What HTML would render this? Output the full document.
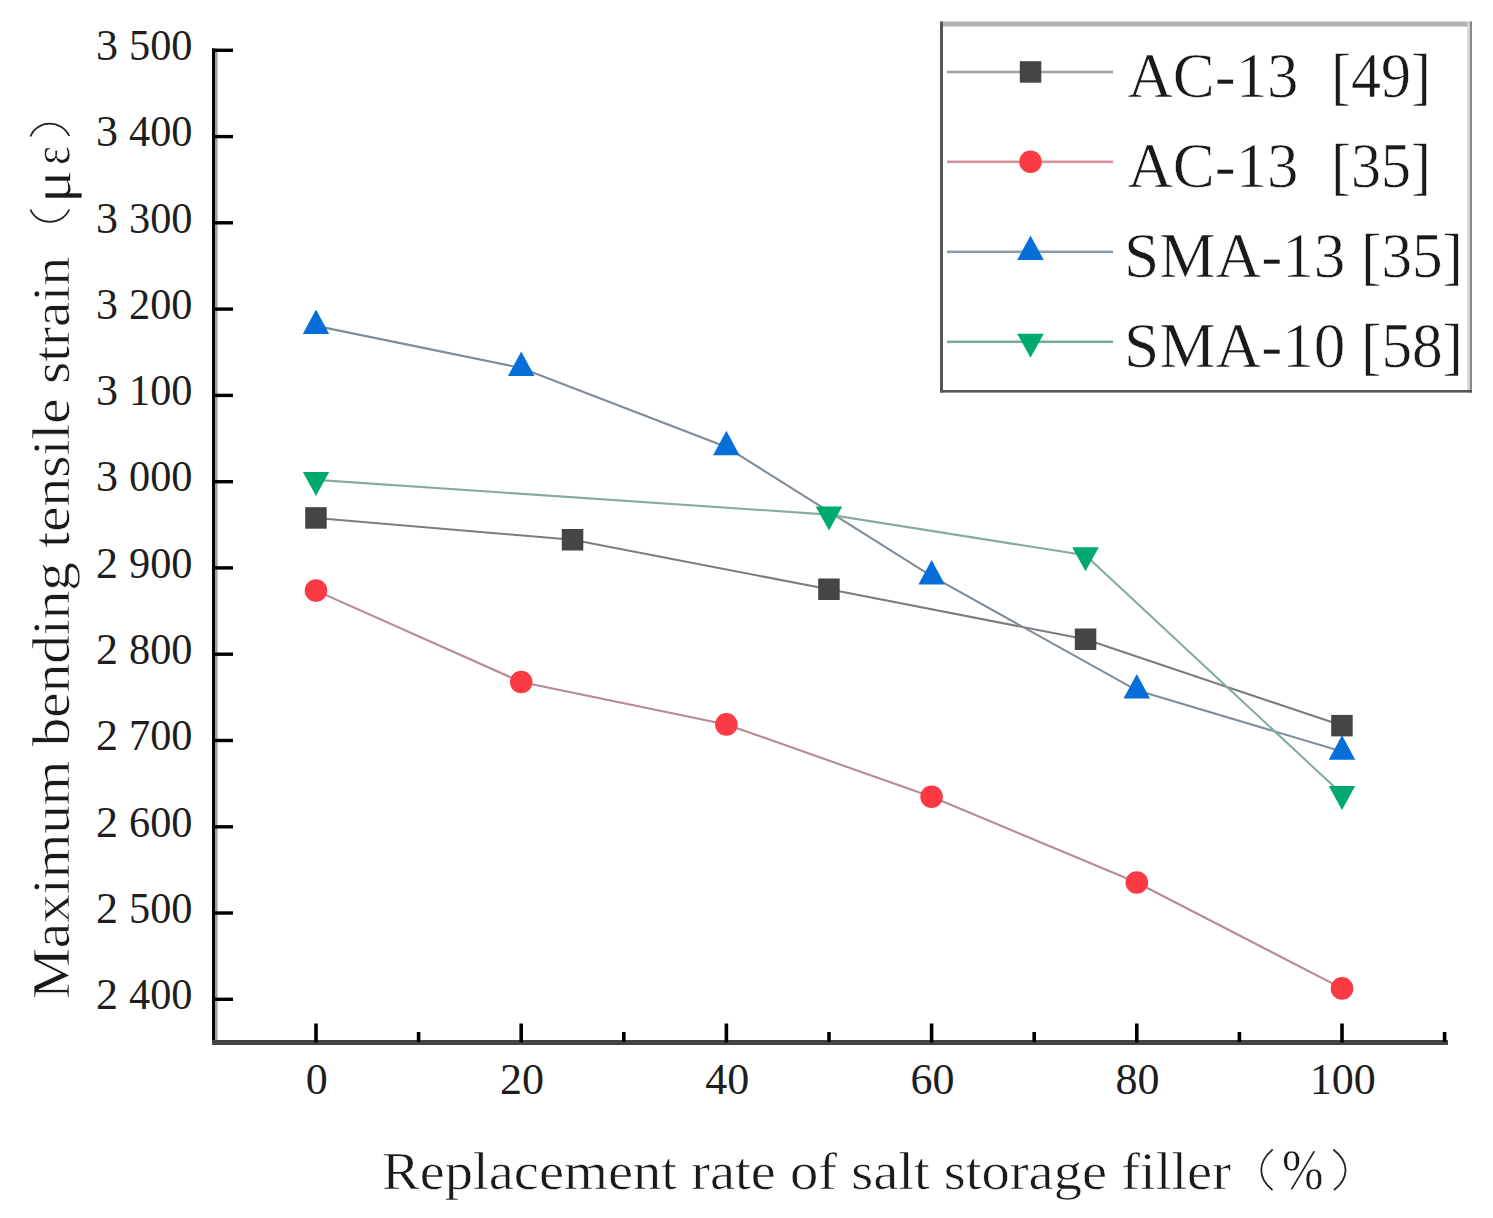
<!DOCTYPE html>
<html><head><meta charset="utf-8"><style>
html,body{margin:0;padding:0;background:#fff;overflow:hidden;}
svg{display:block;}
text{font-family:"Liberation Serif",serif;fill:#1a1a1a;stroke:#fff;stroke-width:0.6px;}
.tk text{stroke:none;fill:#1e1e1e;}
</style></head><body>
<svg width="1493" height="1218" viewBox="0 0 1493 1218">
<rect x="212" y="48.5" width="3" height="995" fill="#000"/>
<rect x="215" y="48.5" width="2.6" height="992" fill="#a0a0a0"/>
<rect x="212" y="1040" width="1236" height="5" fill="#444"/>
<rect x="212" y="997.6" width="21" height="3.4" fill="#000"/>
<g class="tk"><text x="96" y="1009.0" font-size="44" xml:space="preserve">2</text>
<text x="129" y="1009.0" font-size="44" textLength="63.5" lengthAdjust="spacingAndGlyphs" xml:space="preserve">400</text></g>
<rect x="212" y="911.3" width="21" height="3.4" fill="#000"/>
<g class="tk"><text x="96" y="922.7" font-size="44" xml:space="preserve">2</text>
<text x="129" y="922.7" font-size="44" textLength="63.5" lengthAdjust="spacingAndGlyphs" xml:space="preserve">500</text></g>
<rect x="212" y="825.1" width="21" height="3.4" fill="#000"/>
<g class="tk"><text x="96" y="836.5" font-size="44" xml:space="preserve">2</text>
<text x="129" y="836.5" font-size="44" textLength="63.5" lengthAdjust="spacingAndGlyphs" xml:space="preserve">600</text></g>
<rect x="212" y="738.8" width="21" height="3.4" fill="#000"/>
<g class="tk"><text x="96" y="750.2" font-size="44" xml:space="preserve">2</text>
<text x="129" y="750.2" font-size="44" textLength="63.5" lengthAdjust="spacingAndGlyphs" xml:space="preserve">700</text></g>
<rect x="212" y="652.5" width="21" height="3.4" fill="#000"/>
<g class="tk"><text x="96" y="663.9" font-size="44" xml:space="preserve">2</text>
<text x="129" y="663.9" font-size="44" textLength="63.5" lengthAdjust="spacingAndGlyphs" xml:space="preserve">800</text></g>
<rect x="212" y="566.2" width="21" height="3.4" fill="#000"/>
<g class="tk"><text x="96" y="577.6" font-size="44" xml:space="preserve">2</text>
<text x="129" y="577.6" font-size="44" textLength="63.5" lengthAdjust="spacingAndGlyphs" xml:space="preserve">900</text></g>
<rect x="212" y="480.0" width="21" height="3.4" fill="#000"/>
<g class="tk"><text x="96" y="491.4" font-size="44" xml:space="preserve">3</text>
<text x="129" y="491.4" font-size="44" textLength="63.5" lengthAdjust="spacingAndGlyphs" xml:space="preserve">000</text></g>
<rect x="212" y="393.7" width="21" height="3.4" fill="#000"/>
<g class="tk"><text x="96" y="405.1" font-size="44" xml:space="preserve">3</text>
<text x="129" y="405.1" font-size="44" textLength="63.5" lengthAdjust="spacingAndGlyphs" xml:space="preserve">100</text></g>
<rect x="212" y="307.4" width="21" height="3.4" fill="#000"/>
<g class="tk"><text x="96" y="318.8" font-size="44" xml:space="preserve">3</text>
<text x="129" y="318.8" font-size="44" textLength="63.5" lengthAdjust="spacingAndGlyphs" xml:space="preserve">200</text></g>
<rect x="212" y="221.1" width="21" height="3.4" fill="#000"/>
<g class="tk"><text x="96" y="232.5" font-size="44" xml:space="preserve">3</text>
<text x="129" y="232.5" font-size="44" textLength="63.5" lengthAdjust="spacingAndGlyphs" xml:space="preserve">300</text></g>
<rect x="212" y="134.9" width="21" height="3.4" fill="#000"/>
<g class="tk"><text x="96" y="146.3" font-size="44" xml:space="preserve">3</text>
<text x="129" y="146.3" font-size="44" textLength="63.5" lengthAdjust="spacingAndGlyphs" xml:space="preserve">400</text></g>
<rect x="212" y="48.6" width="21" height="3.4" fill="#000"/>
<g class="tk"><text x="96" y="60.0" font-size="44" xml:space="preserve">3</text>
<text x="129" y="60.0" font-size="44" textLength="63.5" lengthAdjust="spacingAndGlyphs" xml:space="preserve">500</text></g>
<rect x="314.2" y="1023.5" width="3.6" height="19" fill="#000"/>
<g class="tk"><text x="316.8" y="1094" font-size="44" text-anchor="middle" xml:space="preserve">0</text></g>
<rect x="416.8" y="1032" width="3.6" height="10" fill="#000"/>
<rect x="519.4" y="1023.5" width="3.6" height="19" fill="#000"/>
<g class="tk"><text x="522.0" y="1094" font-size="44" text-anchor="middle" xml:space="preserve">20</text></g>
<rect x="622.0" y="1032" width="3.6" height="10" fill="#000"/>
<rect x="724.6" y="1023.5" width="3.6" height="19" fill="#000"/>
<g class="tk"><text x="727.2" y="1094" font-size="44" text-anchor="middle" xml:space="preserve">40</text></g>
<rect x="827.2" y="1032" width="3.6" height="10" fill="#000"/>
<rect x="929.8" y="1023.5" width="3.6" height="19" fill="#000"/>
<g class="tk"><text x="932.4" y="1094" font-size="44" text-anchor="middle" xml:space="preserve">60</text></g>
<rect x="1032.4" y="1032" width="3.6" height="10" fill="#000"/>
<rect x="1135.0" y="1023.5" width="3.6" height="19" fill="#000"/>
<g class="tk"><text x="1137.6" y="1094" font-size="44" text-anchor="middle" xml:space="preserve">80</text></g>
<rect x="1237.6" y="1032" width="3.6" height="10" fill="#000"/>
<rect x="1340.2" y="1023.5" width="3.6" height="19" fill="#000"/>
<g class="tk"><text x="1342.8" y="1094" font-size="44" text-anchor="middle" xml:space="preserve">100</text></g>
<rect x="1442.8" y="1032" width="3.6" height="10" fill="#000"/>
<polyline points="316.0,518.0 572.5,539.8 829.0,589.3 1085.5,639.3 1342.0,725.6" fill="none" stroke="#7c7c7c" stroke-width="2.1"/>
<polyline points="316.0,590.6 521.2,682.0 726.4,724.4 931.6,796.8 1136.8,882.5 1342.0,988.4" fill="none" stroke="#b88a93" stroke-width="2.1"/>
<polyline points="316.0,325.9 521.2,367.9 726.4,447.0 931.6,576.2 1136.8,690.3 1342.0,751.5" fill="none" stroke="#7f8c9a" stroke-width="2.1"/>
<polyline points="316.0,479.9 829.0,514.6 1085.5,555.3 1342.0,794.0" fill="none" stroke="#86aaa2" stroke-width="2.1"/>
<rect x="305.2" y="507.2" width="21.5" height="21.5" fill="#454545"/>
<rect x="561.8" y="529.0" width="21.5" height="21.5" fill="#454545"/>
<rect x="818.2" y="578.5" width="21.5" height="21.5" fill="#454545"/>
<rect x="1074.8" y="628.5" width="21.5" height="21.5" fill="#454545"/>
<rect x="1331.2" y="714.9" width="21.5" height="21.5" fill="#454545"/>
<circle cx="316.0" cy="590.6" r="11.3" fill="#fc3a44"/>
<circle cx="521.2" cy="682.0" r="11.3" fill="#fc3a44"/>
<circle cx="726.4" cy="724.4" r="11.3" fill="#fc3a44"/>
<circle cx="931.6" cy="796.8" r="11.3" fill="#fc3a44"/>
<circle cx="1136.8" cy="882.5" r="11.3" fill="#fc3a44"/>
<circle cx="1342.0" cy="988.4" r="11.3" fill="#fc3a44"/>
<path d="M316.0 309.6L329.2 334.1L302.8 334.1Z" fill="#066ed8"/>
<path d="M521.2 351.6L534.5 376.1L508.0 376.1Z" fill="#066ed8"/>
<path d="M726.4 430.7L739.6 455.2L713.1 455.2Z" fill="#066ed8"/>
<path d="M931.6 559.9L944.9 584.4L918.4 584.4Z" fill="#066ed8"/>
<path d="M1136.8 674.0L1150.0 698.5L1123.5 698.5Z" fill="#066ed8"/>
<path d="M1342.0 735.2L1355.2 759.7L1328.8 759.7Z" fill="#066ed8"/>
<path d="M302.8 471.9L329.2 471.9L316.0 495.9Z" fill="#00aa6c"/>
<path d="M815.8 506.6L842.2 506.6L829.0 530.6Z" fill="#00aa6c"/>
<path d="M1072.2 547.3L1098.8 547.3L1085.5 571.3Z" fill="#00aa6c"/>
<path d="M1328.8 786.0L1355.2 786.0L1342.0 810.0Z" fill="#00aa6c"/>
<text x="382" y="1188.5" font-size="53" textLength="849" lengthAdjust="spacingAndGlyphs" xml:space="preserve">Replacement rate of salt storage filler</text>
<path d="M1272.7 1149.5C1257.5 1162 1257.5 1178 1272.5 1190M1333.3 1149.5C1349.5 1162 1349.5 1178 1334 1190" fill="none" stroke="#222" stroke-width="1.8"/>
<text x="1282" y="1189" font-size="57" textLength="41.5" lengthAdjust="spacingAndGlyphs" xml:space="preserve">%</text>
<g transform="translate(68.6,999) rotate(-90)"><text x="0" y="0" font-size="53" textLength="742" lengthAdjust="spacingAndGlyphs" xml:space="preserve">Maximum bending tensile strain</text></g>
<g transform="translate(69.8,203) rotate(-90)"><text x="0" y="0" font-size="54" textLength="33" lengthAdjust="spacingAndGlyphs" xml:space="preserve">μ</text></g>
<g transform="translate(68.6,165) rotate(-90)"><text x="0" y="0" font-size="53" textLength="19" lengthAdjust="spacingAndGlyphs" xml:space="preserve">ε</text></g>
<path d="M30.5 209.5C37 226 62 226 69.2 209.5M30.5 136.5C37 119.5 62 119.5 69.2 136" fill="none" stroke="#222" stroke-width="1.8"/>
<rect x="940" y="21.5" width="532" height="371" fill="#fff"/>
<rect x="940" y="21.5" width="532" height="5" fill="#b2b2b2"/>
<rect x="1467.3" y="21.5" width="2.7" height="371" fill="#d4d4d4"/>
<rect x="1470" y="21.5" width="2" height="371" fill="#888"/>
<rect x="940" y="21.5" width="3" height="371" fill="#555"/>
<rect x="940" y="390" width="532" height="2.6" fill="#555"/>
<rect x="947" y="70.7" width="166" height="2.6" fill="#a4a4a4"/>
<rect x="1019.8" y="61.2" width="21.5" height="21.5" fill="#454545"/>
<text x="1127.5" y="96.8" font-size="64" textLength="171" lengthAdjust="spacingAndGlyphs" xml:space="preserve">AC-13</text>
<text x="1331" y="96.8" font-size="64" textLength="100" lengthAdjust="spacingAndGlyphs" xml:space="preserve">[49]</text>
<rect x="947" y="160.5" width="166" height="2.6" fill="#d8909f"/>
<circle cx="1030.5" cy="161.8" r="11.3" fill="#fc3a44"/>
<text x="1127.5" y="186.7" font-size="64" textLength="171" lengthAdjust="spacingAndGlyphs" xml:space="preserve">AC-13</text>
<text x="1331" y="186.7" font-size="64" textLength="100" lengthAdjust="spacingAndGlyphs" xml:space="preserve">[35]</text>
<rect x="947" y="250.5" width="166" height="2.6" fill="#8c9cb0"/>
<path d="M1030.5 235.5L1043.8 260.0L1017.2 260.0Z" fill="#066ed8"/>
<text x="1124" y="276.6" font-size="64" textLength="221.5" lengthAdjust="spacingAndGlyphs" xml:space="preserve">SMA-13</text>
<text x="1361" y="276.6" font-size="64" textLength="102" lengthAdjust="spacingAndGlyphs" xml:space="preserve">[35]</text>
<rect x="947" y="340.5" width="166" height="2.6" fill="#78ab9e"/>
<path d="M1017.2 333.8L1043.8 333.8L1030.5 357.8Z" fill="#00aa6c"/>
<text x="1124" y="366.5" font-size="64" textLength="221.5" lengthAdjust="spacingAndGlyphs" xml:space="preserve">SMA-10</text>
<text x="1361" y="366.5" font-size="64" textLength="102" lengthAdjust="spacingAndGlyphs" xml:space="preserve">[58]</text>
</svg></body></html>
